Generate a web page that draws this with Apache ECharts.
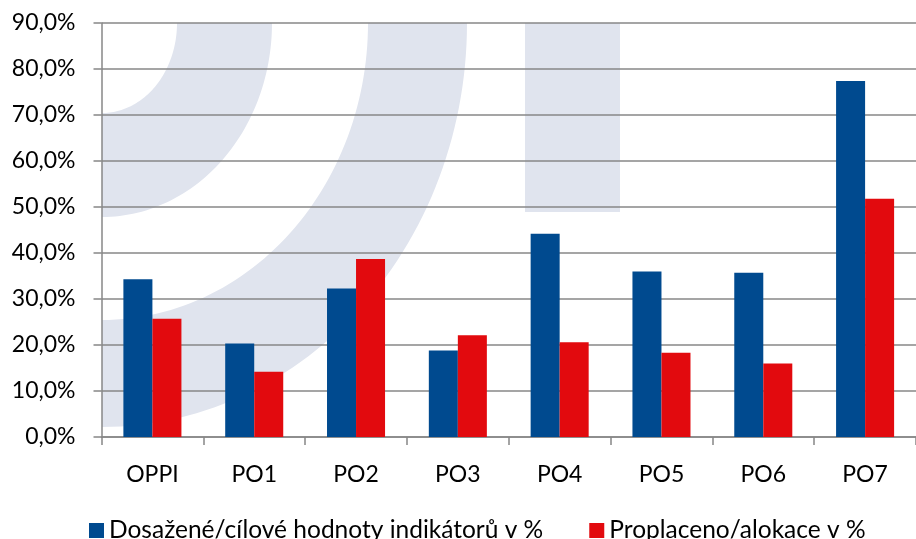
<!DOCTYPE html>
<html>
<head>
<meta charset="utf-8">
<script src="https://cdn.jsdelivr.net/npm/echarts@6/dist/echarts.min.js"></script>
<style>
html,body{margin:0;padding:0;background:#fff;}
#chart{width:916px;height:539px;background:#fff;}
</style>
</head>
<body>
<div id="chart"></div>
<script>
var categories = ['OPPI', 'PO1', 'PO2', 'PO3', 'PO4', 'PO5', 'PO6', 'PO7'];
var seriesNames = ['Dosažené/cílové hodnoty indikátorů v %', 'Proplaceno/alokace v %'];
var indicatorValues = [34.3, 20.3, 32.3, 18.8, 44.2, 36.0, 35.7, 77.4];
var paymentValues = [25.7, 14.2, 38.7, 22.1, 20.6, 18.3, 16.0, 51.8];
var yMin = 0, yMax = 90, yInterval = 10;

var FONT = 'Lato, "Open Sans", sans-serif';
var FS = 23;
var GRID = '#878787';
var WM = '#e0e4ee';

// decorative watermark: quarter elliptical ring (background only)
function ringPoints(cx, cy, rxo, ryo, rxi, ryi) {
  var pts = [], n = 60, i, a;
  for (i = 0; i <= n; i++) { a = (Math.PI / 2) * i / n; pts.push([cx + rxo * Math.cos(a), cy + ryo * Math.sin(a)]); }
  for (i = n; i >= 0; i--) { a = (Math.PI / 2) * i / n; pts.push([cx + rxi * Math.cos(a), cy + ryi * Math.sin(a)]); }
  return pts;
}

var chart = echarts.init(document.getElementById('chart'), null, {renderer: 'canvas'});
chart.setOption({
  animation: false,
  backgroundColor: 'transparent',
  textStyle: {fontFamily: FONT},
  grid: {left: 101.5, top: 23, width: 823, height: 414, containLabel: false},
  graphic: {
    zlevel: -1,
    elements: [
      {type: 'polygon', zlevel: -1, silent: true, shape: {points: ringPoints(102, 23, 170, 194, 75, 90)}, style: {fill: WM}},
      {type: 'polygon', zlevel: -1, silent: true, shape: {points: ringPoints(102, 23, 365, 404, 266, 297)}, style: {fill: WM}},
      {type: 'rect', zlevel: -1, silent: true, shape: {x: 525, y: 23, width: 95, height: 189}, style: {fill: WM}}
    ]
  },
  legend: {
    left: 84, top: 513,
    icon: 'rect', itemWidth: 15, itemHeight: 15, itemGap: 46,
    textStyle: {fontFamily: FONT, fontSize: 24.5, color: '#000'},
    data: seriesNames
  },
  xAxis: {
    type: 'category',
    data: categories,
    boundaryGap: true,
    axisLine: {lineStyle: {color: GRID, width: 1.5}},
    axisTick: {show: true, length: 8, lineStyle: {color: GRID, width: 1.5}},
    axisLabel: {fontFamily: FONT, fontSize: FS, color: '#000', margin: 26},
    splitLine: {show: false}
  },
  yAxis: {
    type: 'value',
    min: yMin, max: yMax, interval: yInterval,
    axisLine: {show: true, lineStyle: {color: GRID, width: 1.5}},
    axisTick: {show: true, length: 8, lineStyle: {color: GRID, width: 1.5}},
    axisLabel: {fontFamily: FONT, fontSize: FS, color: '#000', margin: 26,
      formatter: function (v) { return v.toFixed(1).replace('.', ',') + '%'; }},
    splitLine: {show: true, lineStyle: {color: GRID, width: 1.5}}
  },
  series: [
    {name: seriesNames[0], type: 'bar', data: indicatorValues, barGap: '0%', barCategoryGap: '43%',
      itemStyle: {color: '#004a8f'}},
    {name: seriesNames[1], type: 'bar', data: paymentValues, barGap: '0%', barCategoryGap: '43%',
      itemStyle: {color: '#e20a0e'}}
  ]
});
</script>
</body>
</html>
